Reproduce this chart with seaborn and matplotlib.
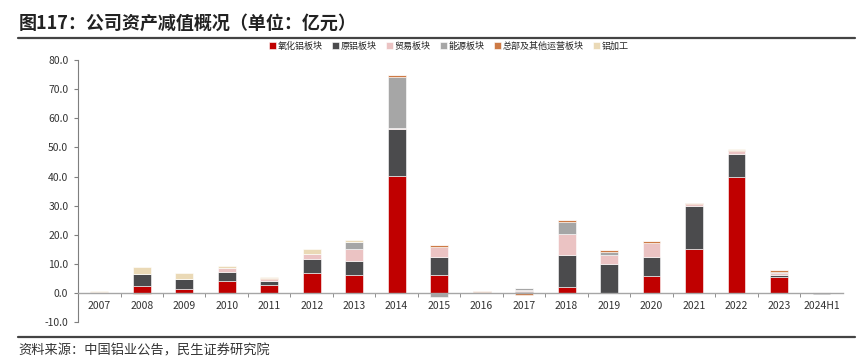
import matplotlib.pyplot as plt
import numpy as np
import pandas as pd
import seaborn as sns

years = ["2007", "2008", "2009", "2010", "2011", "2012", "2013", "2014", "2015",
         "2016", "2017", "2018", "2019", "2020", "2021", "2022", "2023", "2024H1"]

alumina = [0.0, 2.4, 1.5, 4.1, 2.9, 6.9, 6.1, 40.2, 6.1, 0.0, 0.2, 2.1, 0.0, 5.8, 15.2, 40.0, 5.4, 0.0]
primary = [0.0, 4.2, 3.2, 3.3, 1.2, 4.7, 4.8, 16.2, 6.2, 0.3, 0.6, 10.8, 10.0, 6.7, 14.7, 7.8, 0.8, -0.3]
trade = [0.0, 0.0, 0.0, 1.3, 0.6, 1.7, 4.3, 0.2, 3.5, 0.0, 0.3, 7.3, 3.2, 4.7, 0.6, 0.9, 0.6, 0.3]
energy = [0.0, 0.0, 0.0, 0.0, 0.0, 0.0, 2.2, 17.5, -1.3, 0.0, 0.6, 4.2, 0.9, 0.0, 0.0, 0.0, 0.6, 0.0]
hq_other = [0.3, -0.3, 0.0, 0.0, 0.5, 0.0, 0.2, 0.8, 0.6, 0.5, -0.5, 0.6, 0.6, 0.6, 0.4, 0.4, 0.4, 0.0]
fabrication = [0.3, 2.2, 2.1, 0.5, 0.4, 2.0, 0.6, 0.0, 0.0, 0.0, 0.0, 0.0, 0.0, 0.0, 0.0, 0.3, 0.0, 0.0]

series = ["氧化铝板块", "原铝板块", "贸易板块", "能源板块", "总部及其他运营板块", "铝加工"]
colors = ["#C00000", "#4B4B4D", "#EBC3C3", "#A6A6A6", "#CD7A45", "#EAD9B6"]

df = pd.DataFrame({"year": years, "氧化铝板块": alumina, "原铝板块": primary, "贸易板块": trade,
                   "能源板块": energy, "总部及其他运营板块": hq_other, "铝加工": fabrication})

sns.set_style("white")
plt.rcParams["font.family"] = ["Noto Sans CJK SC", "DejaVu Sans"]
plt.rcParams["axes.unicode_minus"] = False

fig = plt.figure(figsize=(8.67, 3.62), dpi=100)
ax = fig.add_axes([0.090, 0.110, 0.882, 0.724])

pos_base = np.zeros(len(years))
neg_base = np.zeros(len(years))
for name, col in zip(series, colors):
    vals = df[name].to_numpy()
    bottom = np.where(vals >= 0, pos_base, neg_base)
    sns.barplot(x=df["year"], y=vals, bottom=bottom, color=col, width=0.42,
                label=name, ax=ax, linewidth=0.4, edgecolor="white", saturation=1)
    pos_base += np.where(vals >= 0, vals, 0)
    neg_base += np.where(vals < 0, vals, 0)

ax.set_ylim(-10, 80)
ax.set_xlim(-0.5, len(years) - 0.5)
ax.set_yticks(np.arange(-10, 81, 10))
ax.set_yticklabels([f"{v:.1f}" for v in np.arange(-10, 81, 10)], fontsize=7.5, color="#333333")
ax.set_xlabel("")
ax.set_ylabel("")

for s in ["top", "right"]:
    ax.spines[s].set_visible(False)
ax.spines["left"].set_color("#7F7F7F")
ax.spines["left"].set_linewidth(0.8)
ax.spines["bottom"].set_position(("data", 0))
ax.spines["bottom"].set_color("#A6A6A6")
ax.spines["bottom"].set_linewidth(1.0)
ax.tick_params(axis="y", length=3, color="#7F7F7F", pad=4, left=True)
ax.tick_params(axis="x", which="major", length=0, labelsize=7.5, labelcolor="#333333", pad=6, bottom=True)
ax.set_xticks(np.arange(0.5, len(years) - 0.5, 1), minor=True)
ax.tick_params(axis="x", which="minor", length=3, color="#7F7F7F", direction="out", bottom=True)

ax.legend(loc="center", bbox_to_anchor=(0.485, 1.054), ncol=6, frameon=False,
          fontsize=6.5, handlelength=0.7, handleheight=0.7, handletextpad=0.2, columnspacing=1.1)

fig.text(0.021, 0.92, "图117：公司资产减值概况（单位：亿元）", fontsize=13, fontweight="bold", color="#222222")
fig.add_artist(plt.Line2D([0.021, 0.986], [0.895, 0.895], color="#444444", linewidth=1.6))
fig.add_artist(plt.Line2D([0.021, 0.986], [0.070, 0.070], color="#444444", linewidth=1.6))
fig.text(0.021, 0.022, "资料来源：中国铝业公告，民生证券研究院", fontsize=9.5, color="#333333")

fig.savefig("out.png", dpi=100)
